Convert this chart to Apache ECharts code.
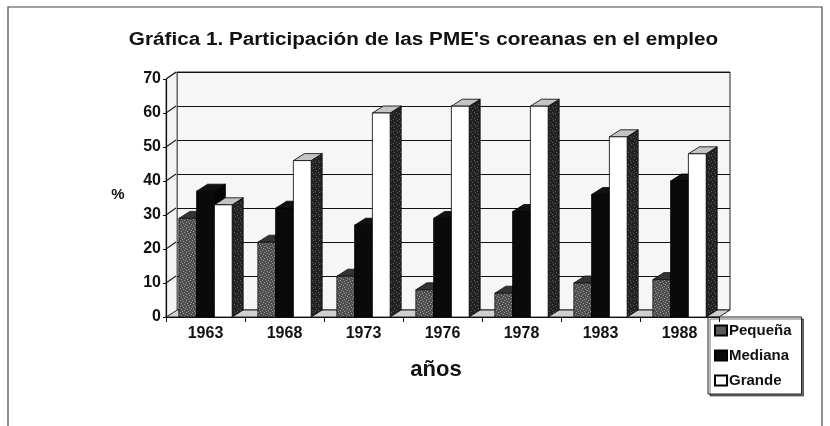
<!DOCTYPE html>
<html><head><meta charset="utf-8">
<script src="https://cdn.jsdelivr.net/npm/echarts@6/dist/echarts.min.js"></script>
<style>html,body{margin:0;padding:0;background:#fff}#c{width:830px;height:426px}</style>
</head><body><div id="c"></div>
<script>
const years = ['1963','1968','1973','1976','1978','1983','1988'];
const pequena = [29, 22, 12, 8, 7, 10, 11];
const mediana = [37, 32, 27, 29, 31, 36, 40];
const grande  = [33, 46, 60, 62, 62, 53, 48];
const yTicks = [0, 10, 20, 30, 40, 50, 60, 70];
const seriesNames = ['Pequeña', 'Mediana', 'Grande'];

const DX = 11, DY = -7;
const FONT = 'Liberation Sans, Arial, sans-serif';

function makePattern(base, dot, seq) {
  const c = document.createElement('canvas');
  c.width = 6; c.height = 6;
  const g = c.getContext('2d');
  g.fillStyle = base; g.fillRect(0, 0, 6, 6);
  g.fillStyle = dot;
  seq.forEach(p => g.fillRect(p[0], p[1], 1, 1));
  return c;
}
const pPat = makePattern('#4e4e4e', '#9a9a9a', [[0,0],[3,1],[1,3],[4,4],[5,2],[2,5]]);
const gSidePat = makePattern('#222', '#5e5e5e', [[1,0],[4,2],[0,4],[3,5]]);
const faces = [
  { front: { image: pPat, repeat: 'repeat' }, top: '#333', side: '#1e1e1e', stroke: '#111' },
  { front: '#0a0a0a', top: '#111', side: '#050505', stroke: '#000' },
  { front: '#ffffff', top: '#c4c4c4', side: { image: gSidePat, repeat: 'repeat' }, stroke: '#000' }
];

function barSeries(idx, data) {
  return {
    type: 'custom', name: seriesNames[idx], xAxisIndex: 0, yAxisIndex: 0, z: 4,
    itemStyle: { color: idx === 0 ? '#5a5a5a' : (idx === 1 ? '#0a0a0a' : '#fff'), borderColor: '#000', borderWidth: 1 },
    data: data.map((v, i) => [i, v]),
    renderItem: function (params, api) {
      const base = api.coord([api.value(0), 0]);
      const top = api.coord([api.value(0), api.value(1)]);
      const band = api.size([1, 0])[0];
      const bw = band * 0.225;
      const left = base[0] - 1.5 * bw + idx * bw;
      const right = left + bw;
      const ty = top[1], by = base[1];
      const f = faces[idx];
      return {
        type: 'group',
        children: [
          { type: 'polygon', shape: { points: [[right, ty], [right + DX, ty + DY], [right + DX, by + DY], [right, by]] },
            style: { fill: f.side, stroke: f.stroke, lineWidth: 0.8 } },
          { type: 'polygon', shape: { points: [[left, ty], [right, ty], [right + DX, ty + DY], [left + DX, ty + DY]] },
            style: { fill: f.top, stroke: f.stroke, lineWidth: 0.8 } },
          { type: 'rect', shape: { x: left, y: ty, width: bw, height: by - ty },
            style: { fill: f.front, stroke: f.stroke, lineWidth: 0.8 } }
        ]
      };
    }
  };
}

// floor + left wall structure (uses the grid rect / scale from the library)
const structSeries = {
  type: 'custom', xAxisIndex: 0, yAxisIndex: 0, z: 2, silent: true,
  data: yTicks.map(v => [0, v]),
  renderItem: function (params, api) {
    const cs = params.coordSys;
    const p = api.coord([0, api.value(1)]);
    const y = p[1];
    const children = [
      { type: 'line', shape: { x1: cs.x, y1: y, x2: cs.x + DX - 1, y2: y + DY }, style: { stroke: '#222', lineWidth: 1.2 } }
    ];
    if (params.dataIndex === 0) {
      const by = cs.y + cs.height;
      children.push({ type: 'polygon', shape: { points: [[cs.x, by], [cs.x + cs.width, by], [cs.x + cs.width + DX, by + DY], [cs.x + DX, by + DY]] },
        style: { fill: '#d0d0d0', stroke: '#222', lineWidth: 1 } });
      children.push({ type: 'polygon', shape: { points: [[cs.x, cs.y], [cs.x + DX, cs.y + DY], [cs.x + DX, by + DY], [cs.x, by]] },
        style: { fill: '#f3f3f3', stroke: '#333', lineWidth: 0.8 } });
    }
    return { type: 'group', children: children };
  }
};

const chart = echarts.init(document.getElementById('c'), null, { renderer: 'canvas' });
chart.setOption({
  backgroundColor: '#ffffff',
  animation: false,
  textStyle: { fontFamily: FONT },
  legend: {
    orient: 'vertical', left: 708, top: 317,
    itemWidth: 12, itemHeight: 10, itemGap: 10,
    padding: [6, 10, 6, 6],
    borderColor: '#222', borderWidth: 1, backgroundColor: '#fff',
    shadowColor: 'rgba(0,0,0,0.55)', shadowOffsetX: 2, shadowOffsetY: 2, shadowBlur: 0,
    icon: 'rect',
    textStyle: { fontFamily: FONT, fontSize: 15, fontWeight: 'bold', color: '#111', padding: [0, 0, 0, -3] },
    data: seriesNames
  },
  graphic: [
    { type: 'rect', shape: { x: 8, y: 7, width: 814, height: 440 }, style: { fill: 'none', stroke: '#444', lineWidth: 1.2 }, z: -1 },
    { type: 'text', x: 423.5, y: 40.5, scaleX: 1.15,
      style: { text: "Gráfica 1. Participación de las PME's coreanas en el empleo", font: 'bold 18px ' + FONT, fill: '#111', textAlign: 'center', textVerticalAlign: 'middle' } },
    { type: 'text', x: 118, y: 195, style: { text: '%', font: 'bold 15px ' + FONT, fill: '#111', textAlign: 'center', textVerticalAlign: 'middle' } },
    { type: 'text', x: 436, y: 370, style: { text: 'años', font: 'bold 22px ' + FONT, fill: '#111', textAlign: 'center', textVerticalAlign: 'middle' } }
  ],
  grid: [
    { left: 166, right: 111, top: 79, bottom: 109, show: false },
    { left: 166 + DX, right: 111 - DX, top: 79 + DY, bottom: 109 - DY, show: true, backgroundColor: '#f6f6f6', borderColor: '#222', borderWidth: 1, z: 0 }
  ],
  xAxis: [
    { type: 'category', gridIndex: 0, data: years, z: 6,
      axisLine: { show: true, lineStyle: { color: '#111', width: 1.2 } },
      axisTick: { show: true, length: 5, lineStyle: { color: '#111' } },
      axisLabel: { fontFamily: FONT, fontSize: 16, fontWeight: 'bold', color: '#111', margin: 9 },
      splitLine: { show: false } },
    { type: 'category', gridIndex: 1, data: years, show: false }
  ],
  yAxis: [
    { type: 'value', gridIndex: 0, min: 0, max: 70, interval: 10, z: 6,
      axisLine: { show: true, lineStyle: { color: '#111', width: 1.2 } },
      axisTick: { show: true, length: 3, lineStyle: { color: '#111' } },
      axisLabel: { fontFamily: FONT, fontSize: 16, fontWeight: 'bold', color: '#111', margin: 5 },
      splitLine: { show: false } },
    { type: 'value', gridIndex: 1, min: 0, max: 70, interval: 10,
      axisLine: { show: false }, axisTick: { show: false }, axisLabel: { show: false },
      splitLine: { show: true, lineStyle: { color: '#111', width: 1.2 } } }
  ],
  series: [
    structSeries,
    barSeries(0, pequena),
    barSeries(1, mediana),
    barSeries(2, grande)
  ]
});
</script></body></html>
